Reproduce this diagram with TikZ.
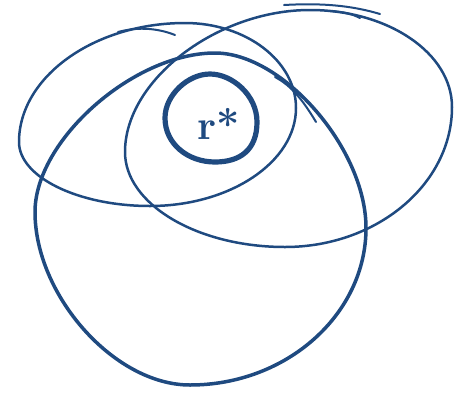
\documentclass[tikz,border=0pt]{standalone}
\usepackage{tikz}
\usetikzlibrary{positioning}
\definecolor{inkblue}{RGB}{31,74,128}
\tikzset{
  setln/.style={draw=inkblue,line width=1.25pt,line cap=round,line join=round},
  eggln/.style={draw=inkblue,line width=1.75pt,line cap=round,line join=round},
  coreln/.style={draw=inkblue,line width=2.6pt,line cap=round,line join=round},
  strayln/.style={draw=inkblue,line width=1pt,line cap=round},
  lbl/.style={text=inkblue,font=\huge\bfseries,inner sep=0pt},
}
\begin{document}
\begin{tikzpicture}[x=0.5pt,y=-0.5pt]
  \useasboundingbox (0,0) rectangle (461,392);
  % left set
  \draw[setln] (19,142) .. controls (19,77) and (94,23) .. (185,23)
    .. controls (246,23) and (296,61) .. (296,108)
    .. controls (296,162) and (230,206) .. (150,206)
    .. controls (78,206) and (19,177) .. cycle;
  \draw[strayln] (118,32) .. controls (140,26) and (160,29) .. (175,35);
  % right set
  \draw[setln] (125,152) .. controls (125,80) and (217,10) .. (310,10)
    .. controls (388,10) and (452,53) .. (452,107)
    .. controls (452,184) and (377,247) .. (285,247)
    .. controls (197,247) and (125,204) .. cycle;
  \draw[strayln] (284,5) .. controls (320,3) and (350,5) .. (380,14);
  \draw[strayln] (330,11) .. controls (345,12) and (352,14) .. (360,18);
  % big set
  \draw[eggln] (215,53) .. controls (283,53) and (366,149) .. (366,228)
    .. controls (366,314) and (287,385) .. (190,385)
    .. controls (114,385) and (35,295) .. (35,212)
    .. controls (35,140) and (134,53) .. cycle;
  \draw[strayln] (275,77) .. controls (288,84) and (300,95) .. (316,122);
  % inner set
  \draw[coreln] (210,74) .. controls (232,74) and (257,95) .. (257,122)
    .. controls (257,150) and (240,162) .. (215,162)
    .. controls (188,162) and (165,144) .. (165,118)
    .. controls (165,95) and (188,74) .. cycle;
  \node[lbl] (rstar) at (219,124) {r*};
\end{tikzpicture}
\end{document}
